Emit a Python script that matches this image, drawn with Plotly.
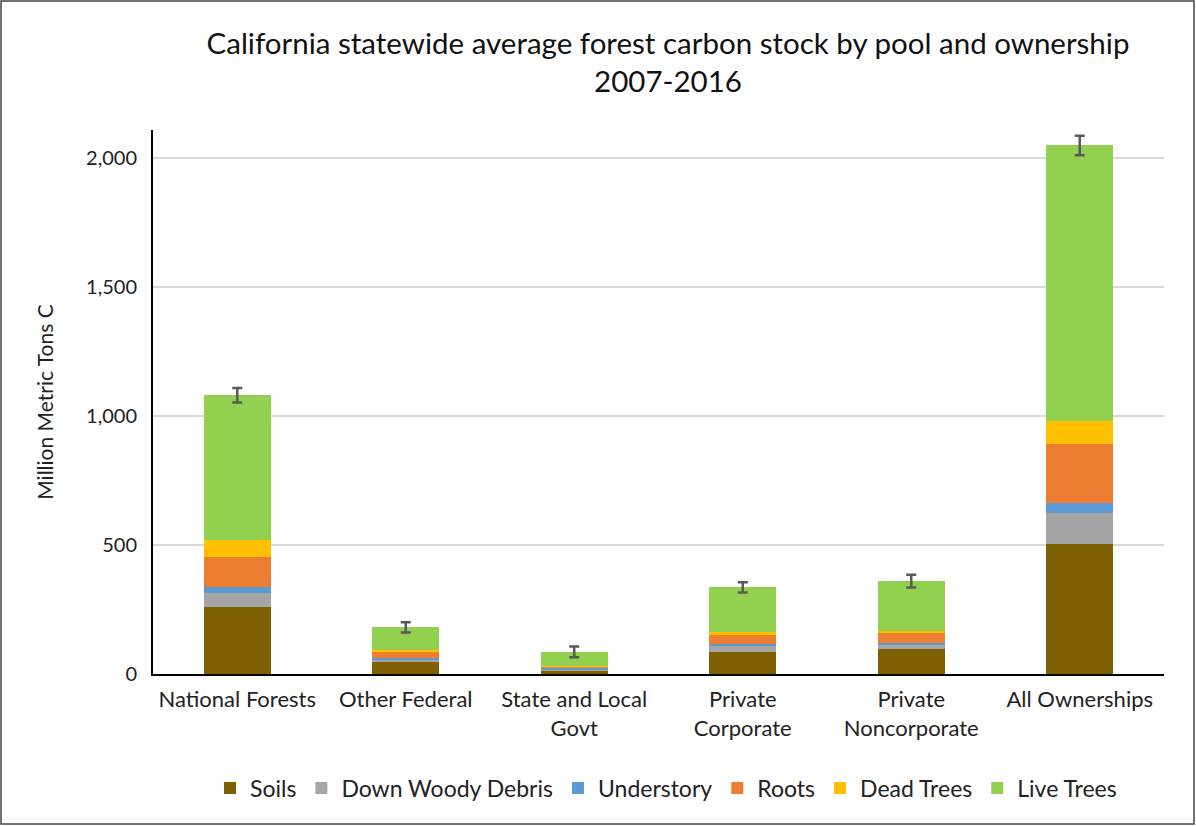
import plotly.graph_objects as go

# categories (x axis)
owners = ["National Forests", "Other Federal", "State and Local<br>Govt",
          "Private<br>Corporate", "Private<br>Noncorporate", "All Ownerships"]

# carbon pools, million metric tons C
soils = [261, 48, 13, 86, 97, 504]
down_woody = [54, 7, 5, 26, 15, 119]
understory = [21, 8, 4, 6, 9, 39]
roots = [117, 21, 8, 34, 41, 229]
dead_trees = [66, 9, 2, 10, 5, 90]
live_trees = [561, 88, 54, 174, 193, 1067]

# uncertainty on the totals (+/-)
err = [28, 20, 21, 20, 25, 38]

pools = [
    ("Soils", soils, "#7F6000"),
    ("Down Woody Debris", down_woody, "#A5A5A5"),
    ("Understory", understory, "#5B9BD5"),
    ("Roots", roots, "#ED7D31"),
    ("Dead Trees", dead_trees, "#FFC000"),
    ("Live Trees", live_trees, "#92D050"),
]

totals = [sum(v) for v in zip(*[p[1] for p in pools])]

FONT = "Lato"
fig = go.Figure()
for name, vals, col in pools:
    fig.add_trace(go.Bar(x=owners, y=vals, name=name, marker_color=col,
                         marker_line_width=0))

# error bars sit on the stack totals
fig.add_trace(go.Scatter(
    x=owners, y=totals, mode="markers", marker=dict(size=1, opacity=0),
    showlegend=False, hoverinfo="skip",
    error_y=dict(type="data", array=err, color="#595959", thickness=2.5, width=5),
))

W, H = 1196, 826
ml, mr, mt, mb = 153, 32, 130, 152
pw, ph = W - ml - mr, H - mt - mb

fig.update_layout(
    width=W, height=H,
    barmode="stack", bargap=0.6,
    paper_bgcolor="white", plot_bgcolor="white",
    margin=dict(l=ml, r=mr, t=mt, b=mb),
    font=dict(family=FONT, size=20, color="#222222"),
    title=dict(text="California statewide average forest carbon stock by pool and ownership<br>2007-2016",
               x=668 / W, xanchor="center", y=1 - 54 / H, yanchor="top",
               font=dict(size=29.5, color="#111111")),
    legend=dict(orientation="h", x=(666 - ml) / pw, xanchor="center",
                y=-(788 - (mt + ph)) / ph, yanchor="middle",
                font=dict(size=23), itemsizing="constant", traceorder="normal"),
    showlegend=True,
)

fig.update_xaxes(showline=True, linecolor="black", linewidth=2,
                 showgrid=False, ticks="", ticklabelstandoff=5,
                 tickfont=dict(size=22))
fig.update_yaxes(range=[0, 2108], tickvals=[0, 500, 1000, 1500, 2000],
                 tickformat=",", showline=True, linecolor="black", linewidth=2,
                 showgrid=True, gridcolor="#D9D9D9", gridwidth=1.5,
                 zeroline=False, ticks="", ticklabelstandoff=10,
                 tickfont=dict(size=20),
                 title=dict(text="Million Metric Tons C", font=dict(size=21),
                            standoff=27))

# thin frame round the whole picture
fig.add_shape(type="rect", xref="paper", yref="paper",
              x0=(1 - ml) / pw, x1=(W - 2 - ml) / pw,
              y0=-(H - 2 - mt - ph) / ph, y1=1 + (mt - 1) / ph,
              line=dict(color="#444444", width=1.5), fillcolor="rgba(0,0,0,0)")

fig.write_html("out.html", config={"displayModeBar": False},
               post_script="document.body.style.margin='0';")
